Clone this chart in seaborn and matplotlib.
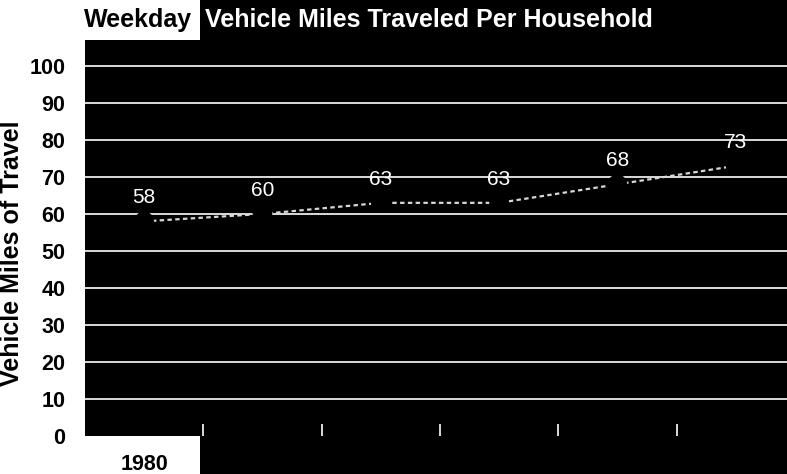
import matplotlib
matplotlib.use("Agg")
import matplotlib.pyplot as plt
from matplotlib.patches import Rectangle
from matplotlib.ticker import FixedLocator
import seaborn as sns
import pandas as pd

# Survey years and average weekday vehicle miles per household
years = ["1980", "1983", "1986", "1990", "1993", "1996"]
vmt = [58, 60, 63, 63, 68, 73]
yticks = [0, 10, 20, 30, 40, 50, 60, 70, 80, 90, 100]

df = pd.DataFrame({"year": years, "vmt": vmt})

sns.set_style("white")
plt.rcParams["font.family"] = ["Liberation Sans", "DejaVu Sans"]

W, H = 787, 474
fig = plt.figure(figsize=(W / 100, H / 100), dpi=100, facecolor="white")

# dark bands behind the title and the year labels
fig.patches.append(Rectangle((200 / W, 1 - 40 / H), 1, 40 / H, transform=fig.transFigure,
                             facecolor="black", edgecolor="none", zorder=0))
fig.patches.append(Rectangle((200 / W, 0), 1, 38 / H, transform=fig.transFigure,
                             facecolor="black", edgecolor="none", zorder=0))

left, right = 85 / W, 1.0
bottom, top = 38 / H, 1 - 40 / H
ax = fig.add_axes([left, bottom, right - left, top - bottom])
ax.set_facecolor("black")

sns.lineplot(data=df, x="year", y="vmt", ax=ax, color="#d8d8d8", linewidth=1.6,
             dashes=False, zorder=2, legend=False)
ax.lines[-1].set_linestyle((0, (2, 1.5)))
sns.scatterplot(data=df, x="year", y="vmt", ax=ax, color="black", s=200,
                edgecolor="none", zorder=3, legend=False)

for i, v in enumerate(vmt):
    ax.annotate(f"{v}", (i, v), xytext=(0, 18), textcoords="offset pixels",
                ha="center", va="baseline", color="white", fontsize=15, zorder=4)

ax.set_ylim(0, 107)
ax.set_xlim(-0.5, -0.5 + (W * right - W * left) / 118.3)
ax.set_yticks(yticks)
ax.set_xticks(range(len(years)))
ax.set_xticklabels(years)
ax.xaxis.set_minor_locator(FixedLocator([i + 0.5 for i in range(len(years) - 1)]))

ax.grid(axis="y", color="white", linewidth=1.2)
ax.yaxis.get_gridlines()[0].set_visible(False)
ax.set_axisbelow(True)
for s in ax.spines.values():
    s.set_visible(False)

ax.tick_params(axis="y", length=0, pad=14, labelsize=15.5, labelcolor="black")
ax.tick_params(axis="x", which="major", length=0, pad=13, labelsize=15.5)
ax.tick_params(axis="x", which="minor", direction="in", length=9, width=1.2, color="white")
ax.xaxis.set_tick_params(which="minor", bottom=True)
for t in ax.get_yticklabels():
    t.set_fontweight("bold")
for i, t in enumerate(ax.get_xticklabels()):
    t.set_fontweight("bold")
    t.set_color("black" if i == 0 else "white")

ax.set_xlabel("")
ax.set_ylabel("")

fig.text(12 / W, 1 - 253 / H, "Vehicle Miles of Travel", rotation=90, ha="center",
         va="center", fontsize=18, fontweight="bold", color="black")
fig.text(84 / W, 1 - 27 / H, "Weekday", ha="left", va="baseline", fontsize=18,
         fontweight="bold", color="black")
fig.text(205 / W, 1 - 27 / H, "Vehicle Miles Traveled Per Household", ha="left",
         va="baseline", fontsize=18, fontweight="bold", color="white")

fig.savefig("out.png", dpi=100, facecolor="white")
